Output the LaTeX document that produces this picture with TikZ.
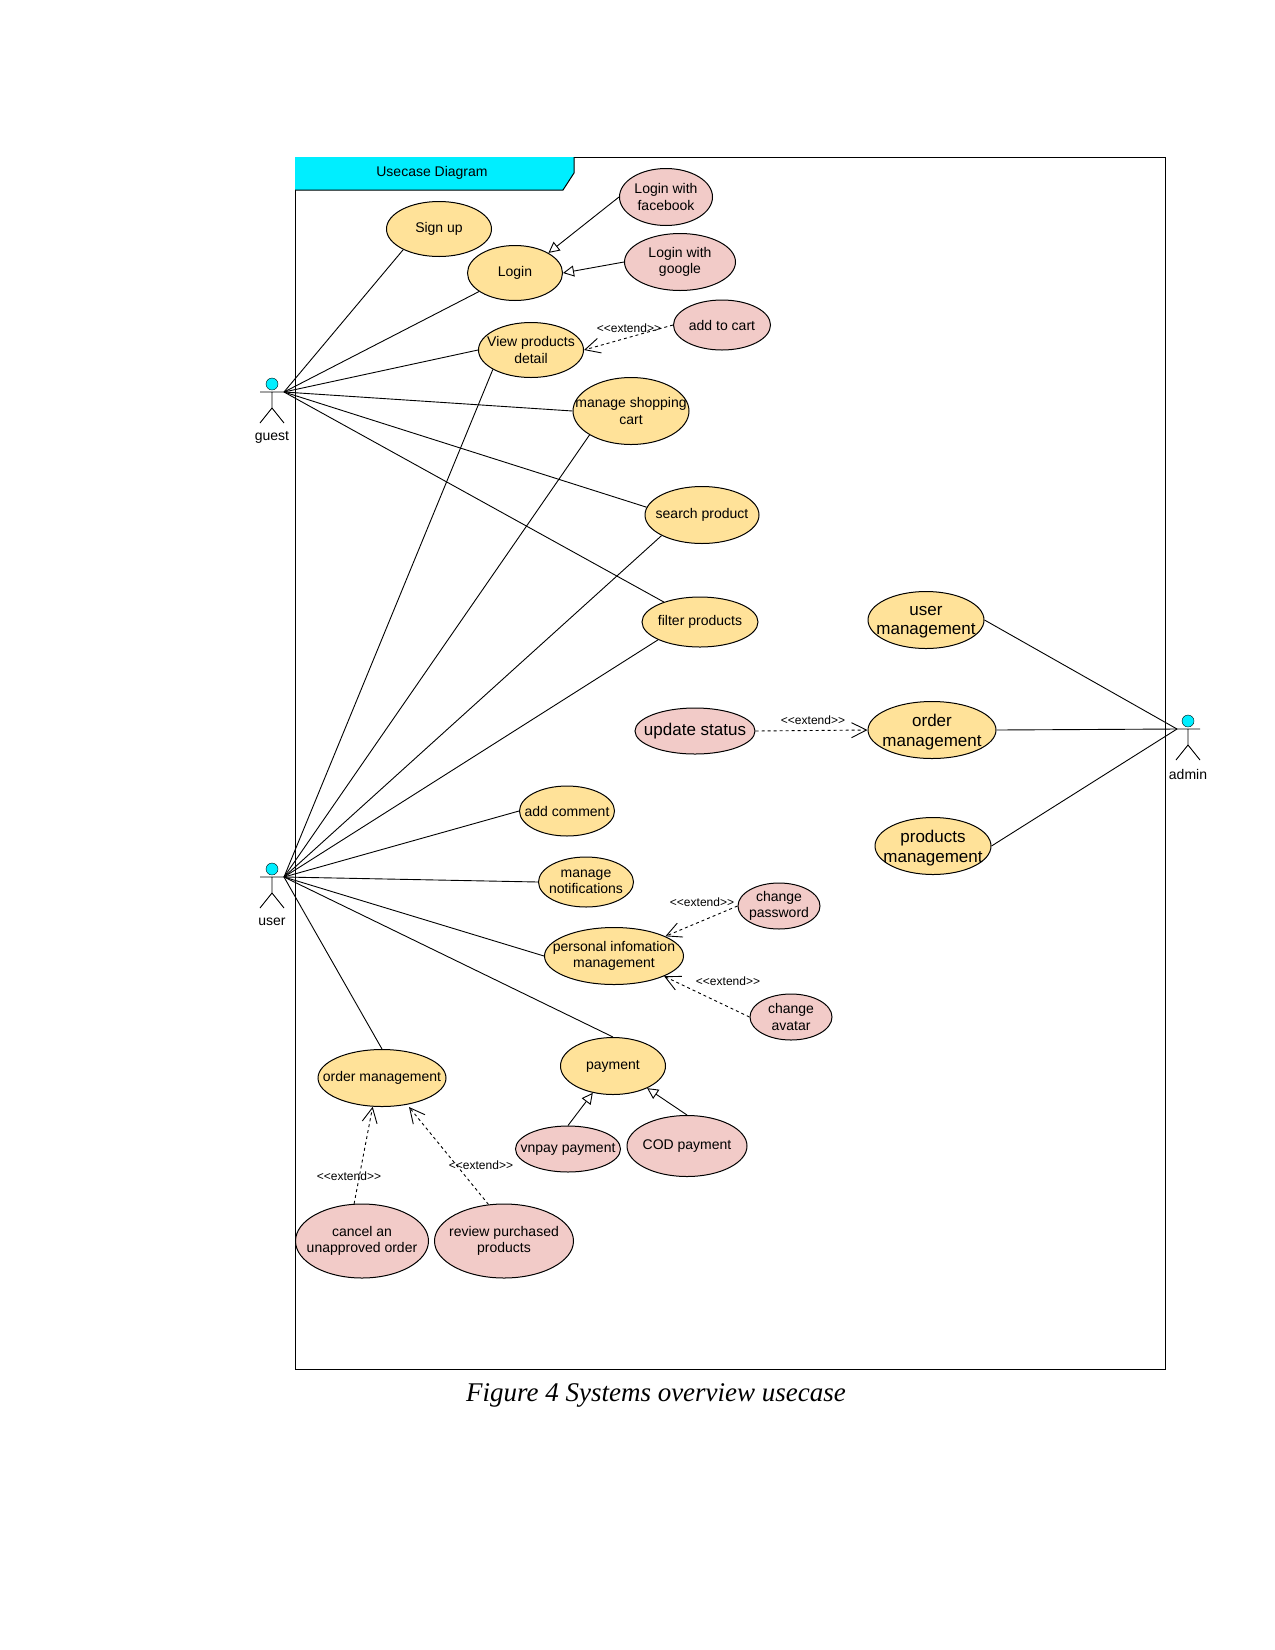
\documentclass[tikz,border=0pt]{standalone}
\usepackage{fontspec}
\setmainfont{Liberation Sans}
\newfontfamily\captionserif{Liberation Serif}
\usetikzlibrary{shapes.geometric,arrows.meta}
\tikzset{
    usecase/.style={ellipse, draw=black, line width=1pt, fill=caseyellow, inner sep=0pt},
    extcase/.style={usecase, fill=casepink},
    casetext/.style={align=center, font=\fontsize{14}{16.5}\selectfont},
    bigtext/.style={align=center, yshift=-2pt, font=\fontsize{17}{19.5}\selectfont},
    smalltext/.style={font=\fontsize{12}{14}\selectfont},
    assoc/.style={line width=0.9pt},
    extendarrow/.style={line width=0.9pt, dashed, -{Straight Barb[length=15pt,width=15pt]}},
    generalize/.style={line width=0.9pt, -{Triangle[open,length=11pt,width=11pt,fill=white]}},
    every label/.style={casetext}
}
\definecolor{caseyellow}{HTML}{FFE299}
\definecolor{casepink}{HTML}{F2CBC8}
\definecolor{framecyan}{HTML}{00EEFF}
\newcommand{\actorman}[4]{
    \begin{scope}[shift={(#2,#3)}]
        \draw[line width=0.9pt] (-12,0) -- (12,0) (0,0) -- (0,16) -- (-12,31) (0,16) -- (12,31);
        \node[circle, draw=black, fill=framecyan, minimum size=12pt, inner sep=0pt] (#1head) at (0,-8) {};
        \node[casetext] (#1name) at (0,45) {#4};
    \end{scope}
}
\begin{document}
\begin{tikzpicture}[x=1pt, y=-1pt]
    \useasboundingbox (-1,-1) rectangle (1274,1649);
    \draw[line width=1pt] (294,156) rectangle (1164,1368);
    \fill[framecyan] (294,156) -- (573,156) -- (573,172) -- (562,189) -- (294,189) -- cycle;
    \draw[line width=1pt] (294,189) -- (562,189) -- (573,172) -- (573,156);
    \node[casetext] (title) at (431,172) {Usecase Diagram};

    \actorman{guest}{271}{391}{guest}
    \actorman{user}{271}{876}{user}
    \actorman{admin}{1187}{728}{admin}
    \coordinate (g) at (283,391);
    \coordinate (u) at (283,876);
    \coordinate (a) at (1176,728);

    \node[usecase, minimum width=105pt, minimum height=55pt, label={center:Sign up}] (signup) at (438,228) {};
    \node[usecase, minimum width=95pt, minimum height=55pt, label={center:Login}] (login) at (514,272) {};
    \node[extcase, minimum width=93pt, minimum height=57pt, label={center:{Login with\\facebook}}] (facebook) at (665,196) {};
    \node[extcase, minimum width=111pt, minimum height=57pt, label={center:{Login with\\google}}] (google) at (679,261) {};
    \node[usecase, minimum width=105pt, minimum height=55pt, label={center:{View products\\detail}}] (view) at (530,349) {};
    \node[extcase, minimum width=97pt, minimum height=50pt, label={center:add to cart}] (cart) at (721,324) {};
    \node[usecase, minimum width=116pt, minimum height=67pt, label={center:{manage shopping\\cart}}] (shopping) at (630,410) {};
    \node[usecase, minimum width=114pt, minimum height=57pt, label={center:search product}] (search) at (701,514) {};
    \node[usecase, minimum width=116pt, minimum height=50pt, label={center:filter products}] (filter) at (699,621) {};
    \node[usecase, minimum width=116pt, minimum height=57pt, label={[bigtext]center:{user\\management}}] (usermgmt) at (925,619) {};
    \node[usecase, minimum width=128pt, minimum height=57pt, label={[bigtext]center:{order\\management}}] (ordermgmt) at (931,729) {};
    \node[usecase, minimum width=116pt, minimum height=57pt, label={[bigtext]center:{products\\management}}] (prodmgmt) at (932,845) {};
    \node[extcase, minimum width=120pt, minimum height=46pt, label={[bigtext, yshift=2pt]center:update status}] (update) at (694,730) {};
    \node[usecase, minimum width=95pt, minimum height=50pt, label={center:add comment}] (comment) at (566,810) {};
    \node[usecase, minimum width=95pt, minimum height=50pt, label={center:{manage\\notifications}}] (notif) at (585,881) {};
    \node[usecase, minimum width=139pt, minimum height=57pt, label={center:{personal infomation\\management}}] (personal) at (613,955) {};
    \node[extcase, minimum width=82pt, minimum height=46pt, label={center:{change\\password}}] (password) at (778,905) {};
    \node[extcase, minimum width=82pt, minimum height=46pt, label={center:{change\\avatar}}] (avatar) at (790,1016) {};
    \node[usecase, minimum width=105pt, minimum height=57pt, label={center:payment}] (payment) at (612,1065) {};
    \node[extcase, minimum width=105pt, minimum height=46pt, label={center:vnpay payment}] (vnpay) at (567,1148) {};
    \node[extcase, minimum width=120pt, minimum height=61pt, label={center:COD payment}] (cod) at (686,1145) {};
    \node[usecase, minimum width=128pt, minimum height=57pt, label={center:order management}] (order) at (381,1077) {};
    \node[extcase, minimum width=133pt, minimum height=74pt, label={center:{cancel an\\unapproved order}}] (cancel) at (361,1240) {};
    \node[extcase, minimum width=139pt, minimum height=74pt, label={center:{review purchased\\products}}] (review) at (503,1240) {};

    \foreach \target in {signup.210, login, view.west, shopping.west, search.172, filter}
        \draw[assoc] (g) -- (\target);
    \foreach \target in {view.207, shopping.210, search.207, filter.203, comment.west, notif.west, personal.west, payment.north, order.north}
        \draw[assoc] (u) -- (\target);
    \foreach \target in {usermgmt.east, ordermgmt.east, prodmgmt.east}
        \draw[assoc] (a) -- (\target);

    \draw[generalize] (facebook.west) -- (login.31);
    \draw[generalize] (google.west) -- (login.east);
    \draw[generalize] (vnpay.north) -- (payment.-127);
    \draw[generalize] (cod.north) -- (payment.-33);

    \draw[extendarrow] (cart.west) -- (view.east);
    \draw[extendarrow] (update.east) -- (ordermgmt.west);
    \draw[extendarrow] (password.west) -- (personal.21);
    \draw[extendarrow] (avatar.west) -- (personal.-22);
    \draw[extendarrow] (cancel.102) -- (order.-108);
    \draw[extendarrow] (review.113) -- (408,1106);

    \node[smalltext] (extcart) at (628,327) {<{}<extend>{}>};
    \node[smalltext] (extupdate) at (812,719) {<{}<extend>{}>};
    \node[smalltext] (extpassword) at (701,901) {<{}<extend>{}>};
    \node[smalltext] (extavatar) at (727,980) {<{}<extend>{}>};
    \node[smalltext] (extcancel) at (348,1175) {<{}<extend>{}>};
    \node[smalltext] (extreview) at (480,1164) {<{}<extend>{}>};

    \node[font=\captionserif\itshape\fontsize{27}{30}\selectfont] (caption) at (655,1394) {Figure 4 Systems overview usecase};
\end{tikzpicture}
\end{document}
